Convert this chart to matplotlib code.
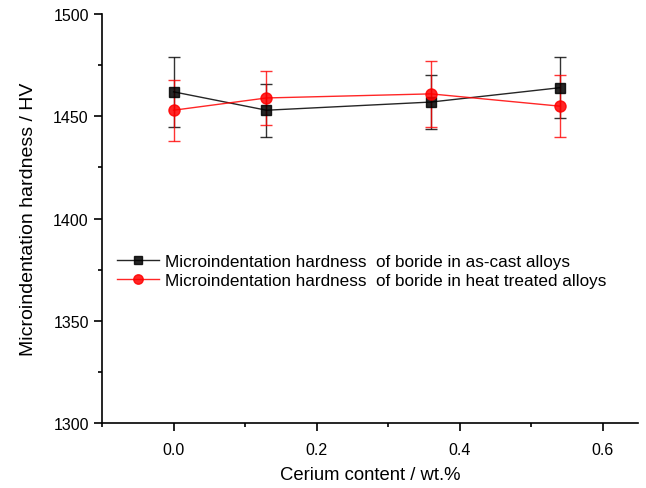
import matplotlib
matplotlib.use("Agg")
import matplotlib.pyplot as plt
from matplotlib.ticker import MultipleLocator

plt.rcParams['font.family'] = ['Liberation Sans', 'DejaVu Sans']

cerium = [0.0, 0.13, 0.36, 0.54]
hv_cast = [1462, 1453, 1457, 1464]
err_cast = [17, 13, 13, 15]
hv_heat = [1453, 1459, 1461, 1455]
err_heat = [15, 13, 16, 15]

fig = plt.figure(figsize=(6.46, 4.89), dpi=100)
ax = fig.add_axes([0.158, 0.133, 0.83, 0.836])

# error bars drawn on their own so the legend shows only line + marker
ax.errorbar(cerium, hv_cast, yerr=err_cast, fmt='none', ecolor='black', elinewidth=1,
            capsize=4, capthick=1, alpha=0.8)
ax.errorbar(cerium, hv_heat, yerr=err_heat, fmt='none', ecolor='red', elinewidth=1,
            capsize=4, capthick=1, alpha=0.8)
ax.plot(cerium, hv_cast, color='black', marker='s', markersize=7, lw=1, alpha=0.85,
        label='Microindentation hardness  of boride in as-cast alloys')
ax.plot(cerium, hv_heat, color='red', marker='o', markersize=8, lw=1, alpha=0.85,
        label='Microindentation hardness  of boride in heat treated alloys')

ax.set_xlim(-0.1, 0.65)
ax.set_ylim(1300, 1500)
ax.xaxis.set_major_locator(MultipleLocator(0.2))
ax.xaxis.set_minor_locator(MultipleLocator(0.1))
ax.yaxis.set_major_locator(MultipleLocator(50))
ax.yaxis.set_minor_locator(MultipleLocator(25))
ax.tick_params(which='both', direction='out', width=1.2, labelsize=11.5)
ax.tick_params(which='major', length=6)
ax.tick_params(axis='x', which='major', pad=8)
ax.tick_params(which='minor', length=3)
ax.spines['top'].set_visible(False)
ax.spines['right'].set_visible(False)
ax.spines['left'].set_linewidth(1.2)
ax.spines['bottom'].set_linewidth(1.2)

ax.set_xlabel('Cerium content / wt.%', fontsize=13.3, labelpad=6)
ax.set_ylabel('Microindentation hardness / HV', fontsize=14, labelpad=12)

leg = ax.legend(loc='center left', bbox_to_anchor=(0.028, 0.372), frameon=False,
                fontsize=12.3, handlelength=2.45, handletextpad=0.35, labelspacing=0.25,
                borderpad=0, borderaxespad=0, markerscale=0.85)

fig.savefig('out.png', dpi=100)
